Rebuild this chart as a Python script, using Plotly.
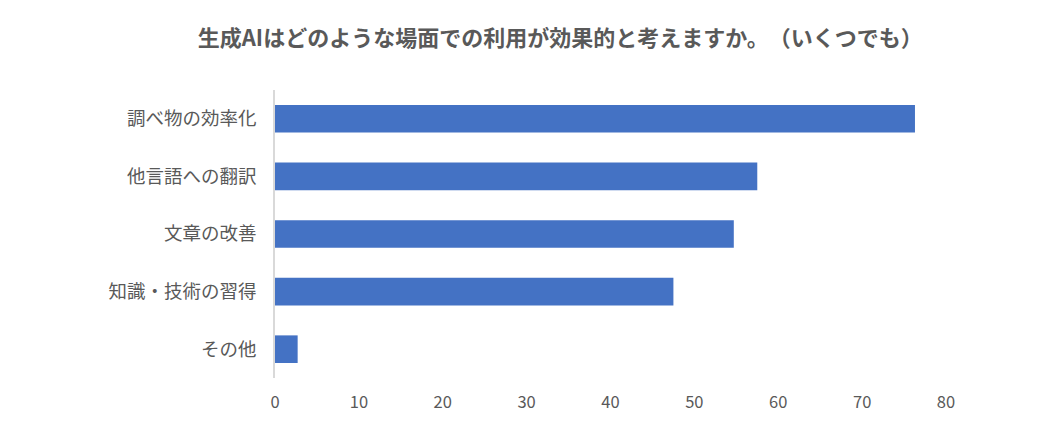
import plotly.graph_objects as go

# 回答項目と回答数
categories = ['調べ物の効率化', '他言語への翻訳', '文章の改善', '知識・技術の習得', 'その他']
counts = [76.3, 57.5, 54.7, 47.5, 2.7]
x_ticks = [0, 10, 20, 30, 40, 50, 60, 70, 80]

title_text = '生成AIはどのような場面での利用が効果的と考えますか。　（いくつでも）'

fig = go.Figure(
    go.Bar(
        x=counts,
        y=categories,
        orientation='h',
        marker=dict(color='#4472C4', line=dict(width=0)),
        showlegend=False,
    )
)

# ページの余白(8px)ぶんを差し引いた余白設定
fig.update_layout(
    title=dict(
        text=f'<b>{title_text}</b>',
        font=dict(size=22, color='#595959', family='Noto Sans CJK JP'),
        x=0.52,
        xanchor='center',
        y=0.93,
        yanchor='middle',
    ),
    width=1062,
    height=437,
    margin=dict(l=267, r=124, t=82, b=67),
    bargap=0.52,
    plot_bgcolor='white',
    paper_bgcolor='white',
    font=dict(family='Noto Sans CJK JP', color='#595959'),
)

fig.update_xaxes(
    range=[0, 80],
    tickvals=x_ticks,
    showgrid=False,
    zeroline=False,
    showline=False,
    automargin=False,
    tickfont=dict(size=16.5, color='#595959'),
    ticklabelstandoff=12,
)

fig.update_yaxes(
    autorange='reversed',
    showgrid=False,
    showline=True,
    linecolor='#d9d9d9',
    linewidth=1.5,
    automargin=False,
    tickfont=dict(size=18.5, color='#595959'),
    ticklabelstandoff=13,
)

fig.write_html('out.html')
